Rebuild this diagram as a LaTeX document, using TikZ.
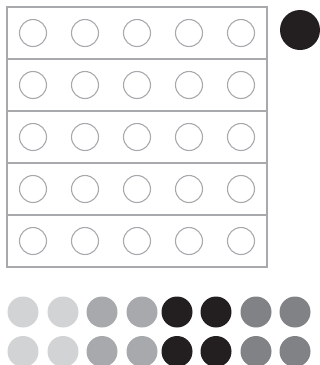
\documentclass[tikz,border=0pt]{standalone}
\begin{document}
\begin{tikzpicture}[x=1pt,y=-1pt,
  rowbox/.style={draw=outl, line width=1.4pt, minimum width=260pt, minimum height=52pt, inner sep=0pt, outer sep=0pt},
  ring/.style={circle, draw=outl, line width=1.1pt, minimum size=27pt, inner sep=0pt},
  dot/.style={circle, fill=#1, minimum size=31pt, inner sep=0pt}]
\definecolor{outl}{HTML}{A7A9AC}
\definecolor{cl}{HTML}{D1D3D4}
\definecolor{cm}{HTML}{A7A9AC}
\definecolor{cb}{HTML}{231F20}
\definecolor{cd}{HTML}{808285}
\useasboundingbox (0,0) rectangle (320,365);
\clip (0,0) rectangle (320,365);
\foreach \r in {1,...,5} {
  \node[rowbox] (row\r) at (137,{7+52*(\r-1)+26}) {};
  \foreach \c in {1,...,5} {
    \node[ring] (c\r\c) at ({33+52*(\c-1)},{7+52*(\r-1)+26}) {};
  }
}
\node[circle, fill=cb, minimum size=40pt, inner sep=0pt] (big) at (300,30) {};
\foreach \x/\col [count=\i] in {23/cl,63/cl,102/cm,142/cm,177/cb,216/cb,256/cd,295/cd} {
  \node[dot=\col] (a\i) at (\x,312) {};
  \node[dot=\col] (b\i) at (\x,351.5) {};
}
\end{tikzpicture}
\end{document}
